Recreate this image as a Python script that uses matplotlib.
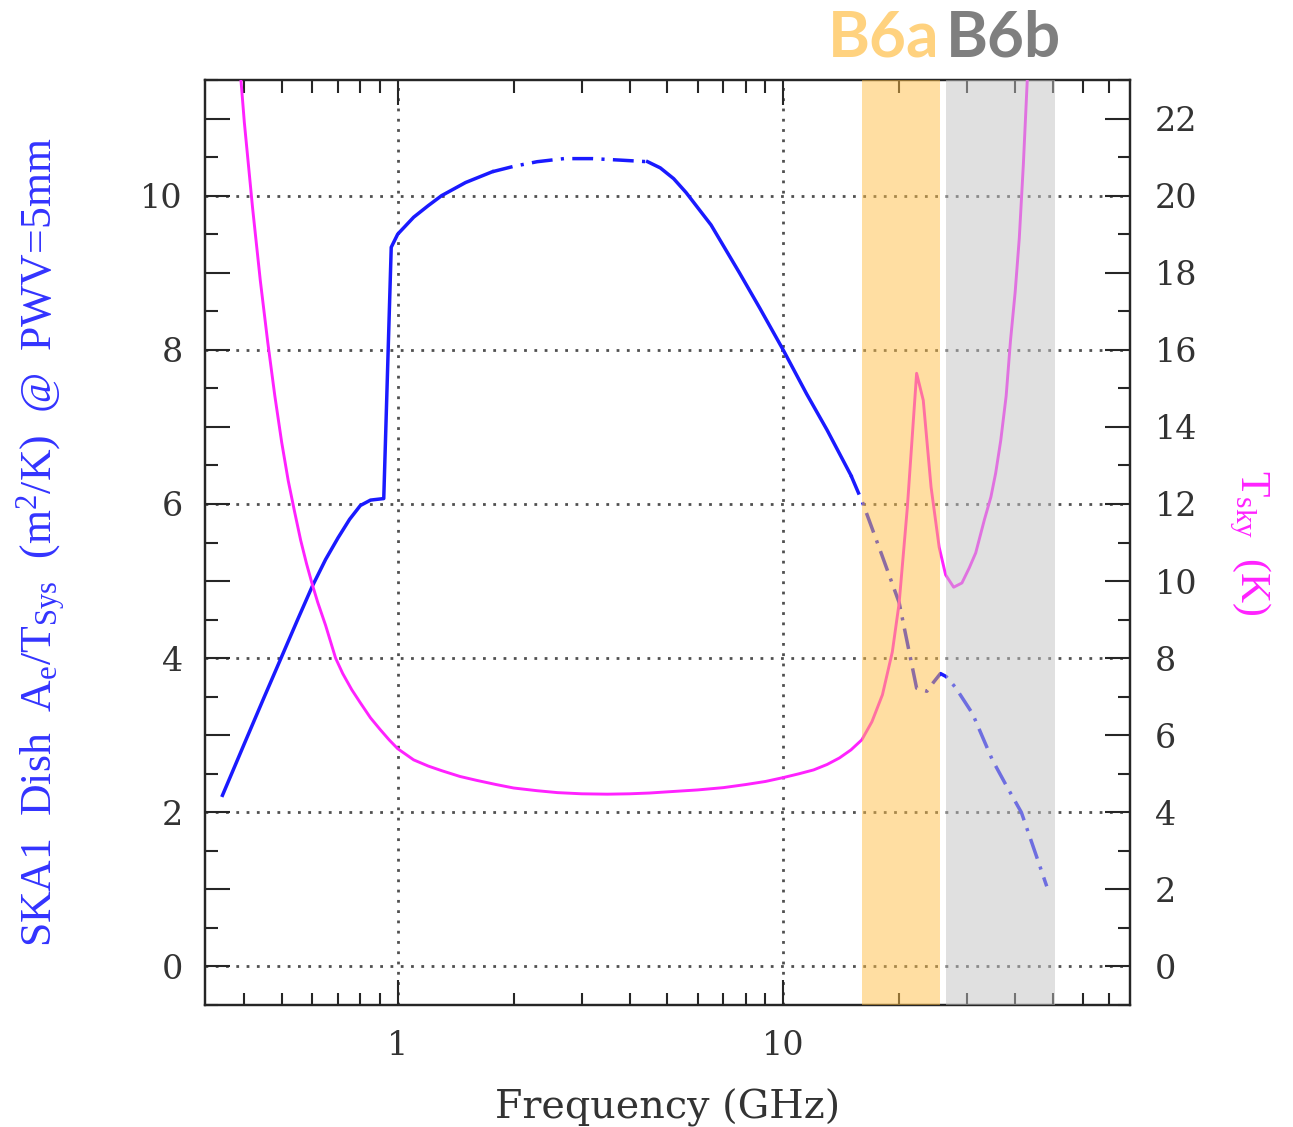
import numpy as np
import matplotlib
matplotlib.use("Agg")
import matplotlib.pyplot as plt
import matplotlib.transforms as mtransforms
from matplotlib.ticker import (LogLocator, MultipleLocator, FuncFormatter,
                               NullFormatter)

# ---------------------------------------------------------------------------
# Data
# ---------------------------------------------------------------------------
# SKA1 dish sensitivity A_e/T_sys (m^2/K) at PWV = 5 mm
freq_ae = [0.351, 0.40, 0.45, 0.50, 0.55, 0.60, 0.65, 0.70, 0.75, 0.80,
           0.85, 0.92, 0.962, 1.0, 1.1, 1.2, 1.3, 1.5, 1.76, 2.0, 2.3, 2.7,
           3.2, 3.8, 4.45, 4.8, 5.2, 5.6, 6.5, 7.7, 8.7, 10.0, 11.5, 13.0,
           15.0, 16.1, 18.0, 20.0, 21.0, 22.2, 23.6, 24.5, 25.6, 26.5, 28.0,
           31.0, 34.9, 38.0, 41.5, 45.0, 48.3]
ae_tsys = [2.22, 2.89, 3.49, 4.02, 4.50, 4.93, 5.28, 5.56, 5.80, 5.98,
           6.05, 6.07, 9.33, 9.50, 9.72, 9.87, 10.00, 10.17, 10.31, 10.38,
           10.44, 10.48, 10.48, 10.46, 10.44, 10.36, 10.22, 10.04, 9.62,
           9.00, 8.54, 8.00, 7.43, 6.96, 6.37, 6.01, 5.35, 4.72, 4.20, 3.61,
           3.57, 3.68, 3.80, 3.76, 3.62, 3.28, 2.68, 2.34, 2.00, 1.49, 1.04]
# frequencies where the sensitivity curve changes line style
ae_breaks = [1.76, 4.45, 15.0]
ae_styles = ["solid", "dashdot", "solid", "dashdot"]

# Sky brightness temperature T_sky (K)
freq_sky = [0.385, 0.392, 0.40, 0.42, 0.44, 0.46, 0.48, 0.50, 0.52, 0.54,
            0.56, 0.58, 0.60, 0.62, 0.65, 0.69, 0.72, 0.76, 0.80, 0.85,
            0.90, 0.95, 1.0, 1.1, 1.2, 1.3, 1.45, 1.6, 1.8, 2.0, 2.3, 2.6,
            3.0, 3.5, 4.0, 4.5, 5.0, 6.0, 7.0, 8.0, 9.0, 10.0, 11.0, 12.0,
            13.0, 14.0, 15.0, 16.0, 17.0, 18.1, 19.2, 20.0, 21.0, 22.2, 23.1,
            24.2, 25.4, 26.4, 27.7, 29.1, 30.4, 31.6, 33.3, 34.6, 35.6, 36.7,
            37.9, 38.9, 40.0, 41.0, 42.0, 43.0, 43.6]
t_sky = [24.0, 23.0, 21.9, 19.7, 17.8, 16.2, 14.8, 13.6, 12.6, 11.8,
         11.06, 10.45, 9.92, 9.45, 8.85, 8.00, 7.60, 7.18, 6.84, 6.45,
         6.15, 5.88, 5.65, 5.36, 5.20, 5.08, 4.93, 4.83, 4.72, 4.63, 4.56,
         4.51, 4.48, 4.47, 4.48, 4.50, 4.53, 4.58, 4.64, 4.72, 4.80, 4.90,
         5.00, 5.10, 5.24, 5.41, 5.62, 5.88, 6.35, 7.05, 8.16, 9.43, 11.9,
         15.39, 14.69, 12.44, 10.88, 10.16, 9.84, 9.95, 10.34, 10.73, 11.6,
         12.18, 12.8, 13.65, 14.8, 16.24, 17.5, 18.9, 20.8, 23.0, 24.2]

# Receiver bands
band_names = ["B6a", "B6b"]
band_edges = [(16.0, 25.5), (26.4, 50.8)]
band_fill = ["#FFBF47", "#C2C2C2"]
band_text = ["#FFD27F", "#7F7F7F"]

# Axis ranges
x_range = (10 ** -0.5, 10 ** 1.9)
ae_range = (-0.5, 11.5)
sky_range = (-1.0, 23.0)

# ---------------------------------------------------------------------------
# Style
# ---------------------------------------------------------------------------
plt.rcParams["font.family"] = ["DejaVu Serif"]
plt.rcParams["mathtext.fontset"] = "custom"
plt.rcParams["mathtext.rm"] = "Liberation Serif"
plt.rcParams["mathtext.it"] = "Liberation Serif:italic"

BLUE = "#1a1aff"
MAGENTA = "#ff22ff"
INK = "#262626"
TXT = "#333333"
GRID = "#505050"

fig = plt.figure(figsize=(12.93, 11.27), dpi=100)
ax = fig.add_axes([205 / 1293, 1 - 1005 / 1127, 925 / 1293, 925 / 1127])
ax2 = ax.twinx()

# Sensitivity curve, split into differently styled pieces
f_ae = np.asarray(freq_ae)
v_ae = np.asarray(ae_tsys)
edges = [-np.inf] + ae_breaks + [np.inf]
for lo, hi, style in zip(edges[:-1], edges[1:], ae_styles):
    m = (f_ae >= lo) & (f_ae <= hi)
    ls = "-" if style == "solid" else (0, (6.0, 2.4, 0.9, 2.4))
    ax.plot(f_ae[m], v_ae[m], color=BLUE, lw=2.5, ls=ls, zorder=3,
            solid_joinstyle="round")

# Sky temperature
ax2.plot(freq_sky, t_sky, color=MAGENTA, lw=2.1, zorder=3,
         solid_joinstyle="round")

# Band shading drawn over the curves
for (lo, hi), c in zip(band_edges, band_fill):
    ax2.axvspan(lo, hi, color=c, alpha=0.5, lw=0, zorder=6)

# Band names above the frame
trans = mtransforms.blended_transform_factory(ax.transData, ax.transAxes)
ax.text(band_edges[0][1], 1.025, band_names[0], transform=trans,
        ha="right", va="baseline", fontsize=46, fontweight="bold",
        family="Lato", color=band_text[0])
ax.text(band_edges[1][0], 1.025, band_names[1], transform=trans,
        ha="left", va="baseline", fontsize=46, fontweight="bold",
        family="Lato", color=band_text[1])

# Axes, ticks
ax.set_xscale("log")
ax.set_xlim(*x_range)
ax.set_ylim(*ae_range)
ax2.set_ylim(*sky_range)

ax.xaxis.set_major_locator(LogLocator(base=10))
ax.xaxis.set_minor_locator(LogLocator(base=10, subs=np.arange(2, 10)))
ax.xaxis.set_major_formatter(FuncFormatter(lambda v, p: f"{v:g}"))
ax.xaxis.set_minor_formatter(NullFormatter())

ax.yaxis.set_major_locator(MultipleLocator(1))
ax.yaxis.set_minor_locator(MultipleLocator(0.5))
ax.yaxis.set_major_formatter(
    FuncFormatter(lambda v, p: f"{v:.0f}" if round(v) % 2 == 0 else ""))
ax2.yaxis.set_major_locator(MultipleLocator(2))
ax2.yaxis.set_minor_locator(MultipleLocator(1))
ax2.yaxis.set_major_formatter(FuncFormatter(lambda v, p: f"{v:.0f}"))

for a in (ax, ax2):
    for s in a.spines.values():
        s.set_linewidth(1.6)
        s.set_color(INK)

ax.tick_params(which="major", direction="in", length=18, width=1.5,
               color=INK, top=True, right=False, labelsize=24, pad=16,
               labelcolor=TXT)
ax.tick_params(which="minor", direction="in", length=9, width=1.5,
               color=INK, top=True, right=False)
ax.tick_params(axis="x", which="major", pad=18)
ax2.tick_params(which="major", direction="in", length=18, width=1.5,
                color=INK, left=False, right=True, labelsize=24, pad=18,
                labelcolor=TXT)
ax2.tick_params(which="minor", direction="in", length=9, width=1.5,
                color=INK, left=False, right=True)

# Dotted grid at labelled positions
grid_kw = dict(color=GRID, lw=2.0, ls=(0, (1.0, 2.7)), zorder=1)
for xv in ax.get_xticks():
    if x_range[0] <= xv <= x_range[1]:
        ax.axvline(xv, **grid_kw)
for yv in ax.get_yticks():
    if ae_range[0] < yv < ae_range[1] and round(yv) % 2 == 0:
        ax.axhline(yv, **grid_kw)

# Labels
ax.set_xlabel("Frequency (GHz)", fontsize=28.5, color=TXT)
ax.xaxis.set_label_coords(0.5, -0.090)
ax.set_ylabel(r"SKA1  Dish  A$_\mathrm{e}$/T$_\mathrm{Sys}$  (m$^2$/K)  @  PWV=5mm",
              fontsize=31.5, color="#3333ff", family="Liberation Serif",
              va="center", ha="center", rotation_mode="anchor")
ax.yaxis.set_label_coords(-0.177, 0.5)
ax2.set_ylabel(r"T$_\mathrm{sky}$  (K)", fontsize=30, color=MAGENTA,
               family="Liberation Serif", rotation=270, va="center",
               ha="center", rotation_mode="anchor")
ax2.yaxis.set_label_coords(1.129, 0.5)

fig.savefig("out.png", dpi=100, facecolor="white")
